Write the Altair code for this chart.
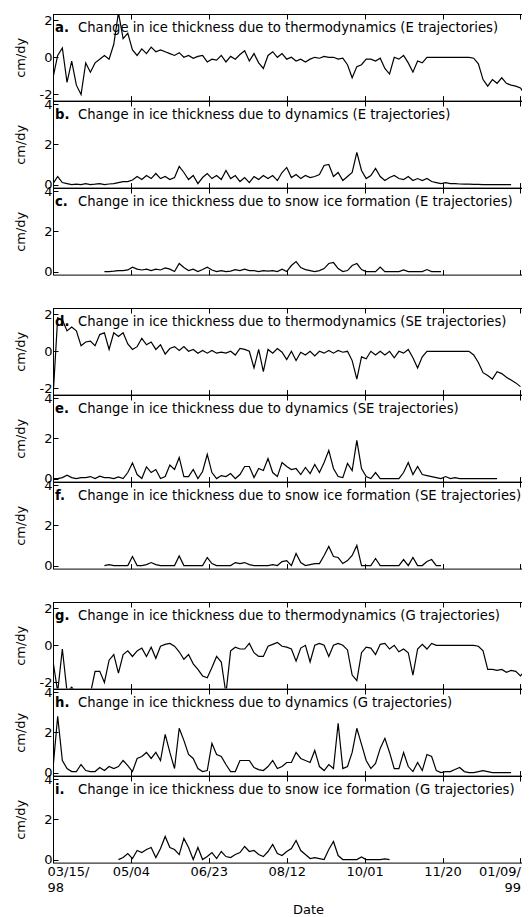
import json
import altair as alt
import pandas as pd

FONT = "DejaVu Sans"
STEP_DAYS = 3          # sampling interval of the hand-read series (days)
X_END_DAY = 301.0      # right edge of the visible date axis (days since 03/15/98)
PLOT_W = 469
PANEL_H = 86.6
GAP_H = 32.5

# ---------------- axis ticks ----------------
tick_days = [0, 50, 100, 150, 200, 250, 300]
tick_labels = [["03/15/", "\u2007\u00a098"], "05/04", "06/23", "08/12", "10/01", "11/20",
               ["01/09/", "99\u00a0"]]

thermo_domain = [-2.33, 2.33]
thermo_ticks = [-2, 0, 2]
pos_domain = [-0.15, 4.15]
pos_ticks = [0, 2, 4]

panel_letters = ["a.", "b.", "c.", "d.", "e.", "f.", "g.", "h.", "i."]
panel_titles = [
    "Change in ice thickness due to  thermodynamics (E trajectories)",
    "Change in ice thickness due to  dynamics (E trajectories)",
    "Change in ice thickness due to  snow ice formation (E trajectories)",
    "Change in ice thickness due to  thermodynamics (SE trajectories)",
    "Change in ice thickness due to  dynamics (SE trajectories)",
    "Change in ice thickness due to  snow ice formation (SE trajectories)",
    "Change in ice thickness due to  thermodynamics (G trajectories)",
    "Change in ice thickness due to  dynamics (G trajectories)",
    "Change in ice thickness due to  snow ice formation (G trajectories)",
]

# ---------------- data (cm/dy), one value every 3 days from the start day ----------------
thermo_E_start = 0
thermo_E = [-1.1, 0.1, 0.5, -1.35, -0.2, -1.5, -2.0, -0.3, -0.8, -0.3,
            -0.1, 0.1, -0.1, 0.7, 2.4, 1.0, 1.3, 0.4, 0.1, 0.45,
            0.2, 0.55, 0.3, 0.4, 0.3, 0.2, 0.1, 0.25, 0.0, 0.1,
            -0.05, 0.05, 0.1, -0.25, -0.1, -0.15, 0.1, -0.25, 0.05, -0.1,
            0.15, 0.35, -0.2, 0.2, -0.3, -0.6, 0.1, 0.3, 0.0, 0.2,
            -0.1, 0.0, -0.2, -0.1, -0.25, -0.1, 0.0, -0.05, 0.05, 0.0,
            0.0, -0.1, -0.05, -0.4, -1.1, -0.5, -0.4, -0.1, -0.1, -0.2,
            -0.05, -0.6, -0.9, 0.0, -0.1, 0.1, -0.3, -0.8, -0.2, -0.3,
            0.0, 0.0, 0.0, 0.0, 0.0, 0.0, 0.0, 0.0, 0.0, 0.0,
            -0.05, -0.35, -1.2, -1.55, -1.2, -1.4, -1.1, -1.4, -1.5, -1.55,
            -1.65, -2.0]

dyn_E_start = 0
dyn_E = [0.05, 0.4, 0.1, 0.05, 0.0, 0.02, 0.0, 0.05, 0.0, 0.02,
         0.05, 0.0, 0.03, 0.05, 0.1, 0.15, 0.15, 0.23, 0.4, 0.25,
         0.45, 0.3, 0.55, 0.3, 0.4, 0.25, 0.35, 0.9, 0.6, 0.25,
         0.45, 0.05, 0.35, 0.55, 0.3, 0.45, 0.25, 0.7, 0.3, 0.45,
         0.15, 0.35, 0.1, 0.4, 0.25, 0.45, 0.3, 0.45, 0.2, 0.6,
         0.85, 0.35, 0.5, 0.3, 0.45, 0.35, 0.4, 0.5, 0.95, 1.0,
         0.4, 0.6, 0.2, 0.4, 0.6, 1.6, 0.7, 0.3, 0.45, 0.8,
         0.4, 0.2, 0.35, 0.45, 0.3, 0.25, 0.4, 0.2, 0.3, 0.2,
         0.3, 0.15, 0.1, 0.05, 0.1, 0.05, 0.05, 0.03, 0.02, 0.02,
         0.01, 0.01, 0.0, 0.0, 0.0, 0.0, 0.0, 0.0, 0.0]

snow_E_start = 33
snow_E = [0.0, 0.0, 0.02, 0.05, 0.05, 0.08, 0.22, 0.12, 0.08, 0.12,
          0.05, 0.12, 0.08, 0.18, 0.12, 0.0, 0.4, 0.2, 0.05, 0.12,
          0.0, 0.1, 0.22, 0.08, 0.0, 0.05, 0.0, 0.02, 0.1, 0.05,
          0.12, 0.05, 0.05, 0.0, 0.05, 0.02, 0.05, 0.0, 0.12, 0.0,
          0.3, 0.5, 0.2, 0.1, 0.05, 0.0, 0.05, 0.15, 0.4, 0.45,
          0.15, 0.0, 0.05, 0.3, 0.4, 0.1, 0.0, 0.0, 0.0, 0.22,
          0.0, 0.0, 0.0, 0.0, 0.08, 0.0, 0.0, 0.0, 0.0, 0.1,
          0.0, 0.0, 0.0]

thermo_SE_start = 0
thermo_SE = [-2.5, 1.8, 1.7, 1.1, 1.3, 1.1, 0.3, 0.5, 0.55, 0.3,
             0.9, 1.0, 0.1, 1.0, 0.8, 1.0, 0.4, 0.1, 0.25, 0.7,
             0.35, 0.5, 0.1, 0.35, -0.15, 0.15, 0.25, 0.05, 0.25, 0.0,
             0.1, -0.1, 0.05, -0.1, 0.05, -0.1, -0.05, -0.1, 0.0, -0.2,
             0.15, 0.1, 0.0, -0.9, 0.1, -1.1, 0.1, -0.1, 0.15, -0.05,
             -0.45, 0.0, -0.5, -0.05, -0.2, 0.0, -0.25, 0.0, -0.1, 0.05,
             -0.1, 0.05, -0.05, 0.0, -0.5, -1.5, -0.3, -0.4, 0.0, -0.2,
             0.0, -0.2, 0.0, -0.35, 0.0, -0.1, 0.1, -0.35, -0.9, -0.3,
             0.0, 0.0, 0.0, 0.0, 0.0, 0.0, 0.0, 0.0, 0.0, 0.0,
             -0.2, -0.6, -1.15, -1.3, -1.5, -1.1, -1.2, -1.4, -1.55, -1.7,
             -1.9]

dyn_SE_start = 0
dyn_SE = [0.0, 0.0, 0.05, 0.17, 0.05, 0.0, 0.05, 0.05, 0.1, 0.0,
          0.12, 0.05, 0.05, 0.0, 0.08, 0.0, 0.3, 0.78, 0.2, 0.0,
          0.58, 0.3, 0.45, 0.0, 0.1, 0.67, 0.45, 1.05, 0.1, 0.1,
          0.45, 0.0, 0.35, 1.2, 0.3, 0.0, 0.15, 0.1, 0.25, 0.0,
          0.2, 0.6, 0.6, 0.05, 0.5, 0.4, 1.0, 0.3, 0.1, 0.8,
          0.6, 0.45, 0.5, 0.2, 0.55, 0.25, 0.7, 0.3, 0.8, 1.4,
          0.5, 0.1, 0.05, 0.75, 0.4, 1.9, 0.5, 0.1, 0.0, 0.3,
          0.0, 0.0, 0.0, 0.0, 0.0, 0.3, 0.8, 0.2, 0.6, 0.2,
          0.15, 0.1, 0.05, 0.0, 0.1, 0.0, 0.05, 0.0, 0.0, 0.0,
          0.0, 0.0, 0.0, 0.0, 0.0, 0.0]

snow_SE_start = 33
snow_SE = [0.0, 0.05, 0.0, 0.0, 0.0, 0.0, 0.45, 0.0, 0.0, 0.05,
           0.15, 0.05, 0.0, 0.0, 0.0, 0.0, 0.48, 0.0, 0.0, 0.0,
           0.0, 0.0, 0.4, 0.1, 0.0, 0.0, 0.0, 0.0, 0.15, 0.1,
           0.15, 0.05, 0.0, 0.0, 0.0, 0.0, 0.05, 0.0, 0.2, 0.25,
           0.0, 0.6, 0.15, 0.0, 0.05, 0.1, 0.1, 0.5, 0.95, 0.45,
           0.4, 0.1, 0.25, 0.5, 1.0, 0.0, 0.0, 0.0, 0.35, 0.0,
           0.0, 0.0, 0.0, 0.0, 0.3, 0.0, 0.4, 0.0, 0.0, 0.2,
           0.3, 0.0, 0.0]

thermo_G_start = 0
thermo_G = [-0.85, -2.5, -0.2, -2.5, -2.25, -2.6, -2.6, -2.6, -2.6, -1.4,
            -1.4, -2.0, -0.8, -0.5, -1.5, -0.5, -0.3, -0.6, -0.3, -0.15,
            -0.6, -0.1, -0.7, -0.05, 0.05, 0.1, -0.05, -0.35, -0.75, -0.5,
            -1.0, -1.3, -1.65, -1.75, -1.2, -0.6, -0.9, -2.6, -0.3, -0.1,
            -0.2, -0.2, 0.1, -0.4, -0.6, -0.6, -0.05, 0.05, 0.15, -0.05,
            -0.1, -0.2, -0.85, -0.15, 0.0, -0.9, 0.0, 0.1, 0.0, -0.6,
            0.0, 0.1, 0.0, -0.25, -1.6, -1.9, -0.4, -0.1, -0.15, -0.5,
            0.05, 0.1, -0.2, 0.0, -0.35, -0.2, -0.4, -1.6, -0.2, 0.05,
            -0.2, 0.1, 0.0, 0.0, 0.0, 0.0, 0.0, 0.0, 0.0, 0.0,
            0.0, -0.05, -0.3, -1.3, -1.3, -1.35, -1.3, -1.45, -1.35, -1.4,
            -1.65, -1.35]

dyn_G_start = 0
dyn_G = [0.2, 2.8, 0.6, 0.2, 0.05, 0.05, 0.4, 0.1, 0.05, 0.05,
         0.25, 0.1, 0.3, 0.2, 0.3, 0.6, 0.35, 0.05, 0.7, 0.8,
         1.0, 0.7, 1.0, 0.6, 1.9, 1.0, 0.2, 2.2, 1.6, 0.9,
         0.7, 0.2, 0.05, 0.1, 1.45, 0.9, 0.8, 0.4, 0.05, 0.05,
         0.6, 0.6, 0.6, 0.25, 0.15, 0.1, 0.3, 0.6, 0.2, 0.3,
         0.5, 0.5, 1.0, 0.7, 0.6, 0.5, 1.1, 0.3, 0.1, 0.4,
         0.2, 2.45, 0.2, 0.3, 1.0, 2.2, 1.4, 0.6, 0.2, 0.45,
         1.2, 1.7, 1.0, 0.2, 0.2, 1.0, 0.3, 0.05, 0.5, 0.1,
         0.9, 0.8, 0.1, 0.0, 0.05, 0.05, 0.15, 0.25, 0.05, 0.0,
         0.0, 0.05, 0.1, 0.05, 0.0, 0.0, 0.0, 0.0, 0.0]

snow_G_start = 42
snow_G = [0.0, 0.1, 0.3, 0.05, 0.45, 0.35, 0.5, 0.6, 0.1, 0.55,
          1.15, 0.6, 0.5, 0.25, 1.05, 0.6, 0.0, 0.6, 0.0, 0.15,
          0.35, 0.05, 0.4, 0.15, 0.1, 0.25, 0.35, 0.65, 0.4, 0.45,
          0.25, 0.15, 0.4, 0.75, 0.3, 0.2, 0.4, 0.55, 0.95, 0.45,
          0.25, 0.05, 0.1, 0.05, 0.0, 0.5, 0.9, 0.2, 0.0, 0.0,
          0.0, 0.0, 0.13, 0.0, 0.0, 0.0, 0.0, 0.03, 0.0]

panels = [
    (thermo_E_start, thermo_E, "thermo"),
    (dyn_E_start, dyn_E, "pos"),
    (snow_E_start, snow_E, "pos"),
    (thermo_SE_start, thermo_SE, "thermo"),
    (dyn_SE_start, dyn_SE, "pos"),
    (snow_SE_start, snow_SE, "pos"),
    (thermo_G_start, thermo_G, "thermo"),
    (dyn_G_start, dyn_G, "pos"),
    (snow_G_start, snow_G, "pos"),
]


def js(v):
    if isinstance(v, list):
        return "[" + ",".join(json.dumps(s, ensure_ascii=False) for s in v) + "]"
    return json.dumps(v, ensure_ascii=False)


label_expr = js(tick_labels[-1])
for d, lab in reversed(list(zip(tick_days[:-1], tick_labels[:-1]))):
    label_expr = f"datum.value == {d} ? {js(lab)} : ({label_expr})"


def frame_axis(orient):
    # plain border line (axis domain only)
    return alt.Axis(orient=orient, domain=True, domainColor="black", domainWidth=1,
                    ticks=False, labels=False, grid=False, title=None)


def make_panel(idx, start, values, kind):
    days = [start + STEP_DAYS * i for i in range(len(values))]
    df = pd.DataFrame({"day": days, "v": values})
    xs = alt.Scale(domain=[0, X_END_DAY], nice=False, zero=False)
    if kind == "thermo":
        ys = alt.Scale(domain=thermo_domain, nice=False, zero=False)
        yt = thermo_ticks
    else:
        ys = alt.Scale(domain=pos_domain, nice=False, zero=False)
        yt = pos_ticks
    last = idx == len(panels) - 1

    if last:
        bottom_axis = alt.Axis(orient="bottom", values=tick_days, domain=False, grid=False,
                               tickSize=5, offset=-5, labels=True, labelExpr=label_expr,
                               labelFlush=10, labelFlushOffset=0,
                               labelOffset=alt.condition("datum.value == 0", alt.value(-6),
                                                         alt.value(0)),
                               labelPadding=3, labelLineHeight=16, labelFontSize=13,
                               labelOverlap=False,
                               title="Date", titleX=255, titleY=56,
                               titleBaseline="alphabetic", titleFontSize=13)
    else:
        bottom_axis = alt.Axis(orient="bottom", values=tick_days, domain=False, grid=False,
                               tickSize=5, offset=-5, labels=False, title=None)
    top_axis = alt.Axis(orient="top", values=tick_days, domain=False, grid=False,
                        tickSize=5, offset=-5, labels=False, title=None)
    left_axis = alt.Axis(orient="left", values=yt, domain=False, grid=False, tickSize=5,
                         offset=-5, labelPadding=1, labelFontSize=13,
                         labelExpr="'' + datum.value", title="cm/dy", titleAngle=270,
                         titleX=-33.5, titleY=PANEL_H / 2, titleBaseline="alphabetic",
                         titleFontSize=13)

    line = alt.Chart(df).mark_line(color="black", strokeWidth=1.2, clip=True).encode(
        x=alt.X("day:Q", scale=xs, axis=bottom_axis),
        y=alt.Y("v:Q", scale=ys, axis=left_axis),
    )
    ticks_top = alt.Chart(df).mark_line(opacity=0, clip=True).encode(
        x=alt.X("day:Q", scale=xs, axis=top_axis),
        y=alt.Y("v:Q", scale=ys, axis=frame_axis("left")),
    )
    frame_bottom = alt.Chart(df).mark_line(opacity=0, clip=True).encode(
        x=alt.X("day:Q", scale=xs, axis=frame_axis("bottom")),
        y=alt.Y("v:Q", scale=ys, axis=frame_axis("left")),
    )
    frame_top = alt.Chart(df).mark_line(opacity=0, clip=True).encode(
        x=alt.X("day:Q", scale=xs, axis=frame_axis("top")),
        y=alt.Y("v:Q", scale=ys, axis=frame_axis("left")),
    )
    letter = alt.Chart(pd.DataFrame({"t": [panel_letters[idx]]})).mark_text(
        align="left", baseline="alphabetic", font=FONT, fontSize=13.2, fontWeight="bold",
        color="black", clip=True).encode(text="t:N", x=alt.value(2), y=alt.value(18))
    title = alt.Chart(pd.DataFrame({"t": [panel_titles[idx]]})).mark_text(
        align="left", baseline="alphabetic", font=FONT, fontSize=13.2, color="black",
        clip=True).encode(text="t:N", x=alt.value(25), y=alt.value(18))

    return alt.layer(line, ticks_top, frame_bottom, frame_top, letter, title).resolve_axis(
        x="independent", y="independent").properties(width=PLOT_W, height=PANEL_H)


def spacer():
    return alt.Chart(pd.DataFrame({"t": ["."]})).mark_text(opacity=0).encode(
        text="t:N", x=alt.value(10), y=alt.value(16)
    ).properties(width=PLOT_W, height=GAP_H)


rows = []
for i, (start, vals, kind) in enumerate(panels):
    if i in (3, 6):
        rows.append(spacer())
    rows.append(make_panel(i, start, vals, kind))

chart = alt.vconcat(*rows, spacing=0, bounds="flush").properties(
    padding={"left": 6, "top": 5, "right": 0, "bottom": 0},
).configure_axis(
    labelFont=FONT, titleFont=FONT, labelColor="black", titleColor="black",
    tickColor="black", titleFontWeight="normal", labelFontSize=13, titleFontSize=13,
).configure_view(strokeOpacity=0)

chart.save("out.html", embed_options={"renderer": "svg", "actions": False})
